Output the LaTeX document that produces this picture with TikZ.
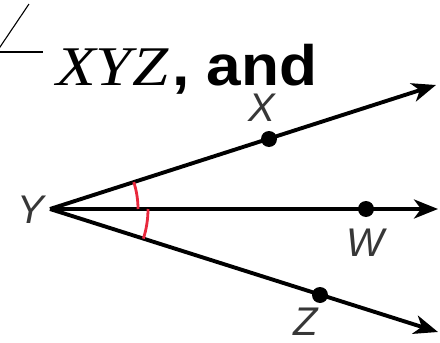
\documentclass[tikz,border=0pt]{standalone}
\usepackage{fontspec}
\setmainfont{Liberation Serif}
\setsansfont{Liberation Sans}
\usetikzlibrary{arrows.meta}
\definecolor{arcred}{RGB}{232,40,60}
\definecolor{lblgray}{RGB}{55,55,55}
\begin{document}
\begin{tikzpicture}[x=1pt,y=1pt,
  ray/.style={line width=3.9pt,-{Stealth[length=24pt,width=19pt,inset=7pt]}},
  dotpt/.style={circle,fill=black,inner sep=0pt,minimum size=16pt},
  lbl/.style={font=\fontsize{40}{40}\selectfont\sffamily\itshape,text=lblgray,inner sep=0pt},
  ttl/.style={inner sep=0pt,anchor=base west},
  marc/.style={arcred,line width=2.8pt},
  sym/.style={line width=1.1pt}]
\useasboundingbox (0,0) rectangle (440,-343);
% title
\draw[sym] (-2,-50) -- (29,-4);
\draw[sym] (0,-52) -- (43,-52);
\node[ttl,xscale=1.16] (tXYZ) at (56,-85)
  {\fontsize{56}{56}\selectfont\textit{XYZ}};
\node[ttl,xscale=1.09] (tand) at (172,-85)
  {\fontsize{57}{57}\selectfont\sffamily\bfseries, and};
% geometry
\coordinate (Y) at (50,-209);
\coordinate (endX) at (436,-85);
\coordinate (endW) at (438,-209);
\coordinate (endZ) at (438,-332);
\draw[ray] (Y) -- (endX);
\draw[ray] (Y) -- (endW);
\draw[ray] (Y) -- (endZ);
\node[dotpt] (X) at (269,-139) {};
\node[dotpt] (W) at (366,-209) {};
\node[dotpt] (Z) at (320,-295) {};
\node[lbl] (lX) at (262,-108) {X};
\node[lbl] (lY) at (31,-210) {Y};
\node[lbl] (lW) at (365,-243) {W};
\node[lbl] (lZ) at (306,-322) {Z};
% angle marks
\draw[marc] ([shift={(17.8:88)}]Y) arc[start angle=17.8,end angle=0,radius=88];
\draw[marc] ([shift={(0:98)}]Y) arc[start angle=0,end angle=-17.6,radius=98];
\end{tikzpicture}
\end{document}
